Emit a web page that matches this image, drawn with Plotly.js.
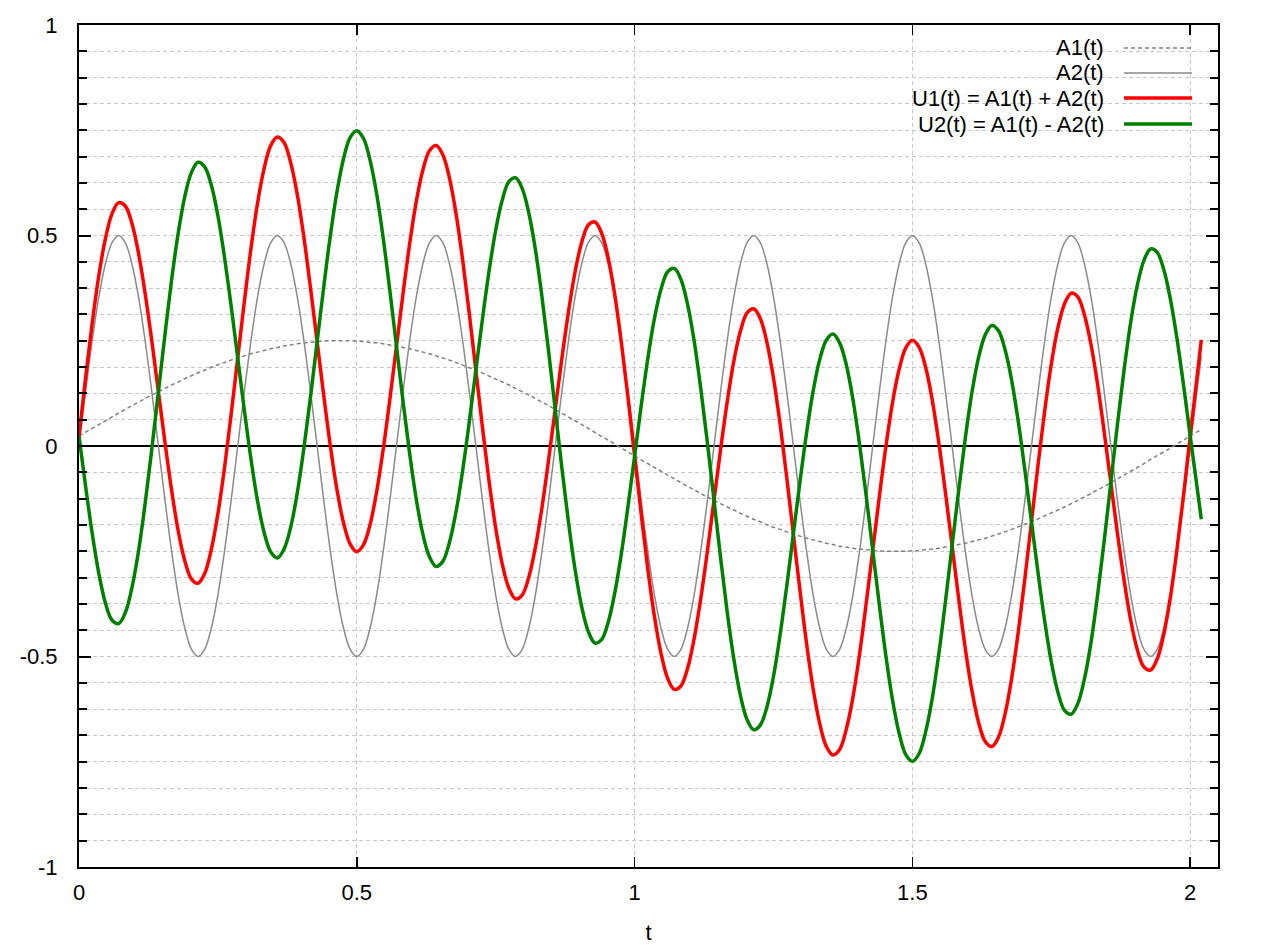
<!DOCTYPE html>
<html>
<head>
<meta charset="utf-8">
<script src="https://cdn.plot.ly/plotly-3.0.1.min.js"></script>
<style>html,body{margin:0;padding:0;background:#fff;}#chart{width:1278px;height:951px;}</style>
</head>
<body>
<div id="chart"></div>
<script>
// time samples (t)
const t = [
  0,0.0119,0.0238,0.0357,0.0476,0.0595,0.0714,0.0833,0.0952,0.1071,0.1190,0.1310,
  0.1429,0.1548,0.1667,0.1786,0.1905,0.2024,0.2143,0.2262,0.2381,0.2500,0.2619,0.2738,
  0.2857,0.2976,0.3095,0.3214,0.3333,0.3452,0.3571,0.3690,0.3810,0.3929,0.4048,0.4167,
  0.4286,0.4405,0.4524,0.4643,0.4762,0.4881,0.5000,0.5119,0.5238,0.5357,0.5476,0.5595,
  0.5714,0.5833,0.5952,0.6071,0.6190,0.6310,0.6429,0.6548,0.6667,0.6786,0.6905,0.7024,
  0.7143,0.7262,0.7381,0.7500,0.7619,0.7738,0.7857,0.7976,0.8095,0.8214,0.8333,0.8452,
  0.8571,0.8690,0.8810,0.8929,0.9048,0.9167,0.9286,0.9405,0.9524,0.9643,0.9762,0.9881,
  1.0000,1.0119,1.0238,1.0357,1.0476,1.0595,1.0714,1.0833,1.0952,1.1071,1.1190,1.1310,
  1.1429,1.1548,1.1667,1.1786,1.1905,1.2024,1.2143,1.2262,1.2381,1.2500,1.2619,1.2738,
  1.2857,1.2976,1.3095,1.3214,1.3333,1.3452,1.3571,1.3690,1.3810,1.3929,1.4048,1.4167,
  1.4286,1.4405,1.4524,1.4643,1.4762,1.4881,1.5000,1.5119,1.5238,1.5357,1.5476,1.5595,
  1.5714,1.5833,1.5952,1.6071,1.6190,1.6310,1.6429,1.6548,1.6667,1.6786,1.6905,1.7024,
  1.7143,1.7262,1.7381,1.7500,1.7619,1.7738,1.7857,1.7976,1.8095,1.8214,1.8333,1.8452,
  1.8571,1.8690,1.8810,1.8929,1.9048,1.9167,1.9286,1.9405,1.9524,1.9643,1.9762,1.9881,
  2.0000,2.02];
// A1(t)
const a1 = [
  0.024,0.033,0.042,0.051,0.060,0.069,0.078,0.087,0.096,0.104,0.113,0.121,
  0.129,0.137,0.145,0.152,0.160,0.167,0.174,0.180,0.187,0.193,0.198,0.204,
  0.209,0.214,0.219,0.223,0.227,0.231,0.234,0.238,0.240,0.243,0.245,0.246,
  0.248,0.249,0.250,0.250,0.250,0.250,0.249,0.248,0.246,0.245,0.243,0.240,
  0.237,0.234,0.231,0.227,0.223,0.219,0.214,0.209,0.204,0.198,0.192,0.186,
  0.180,0.173,0.166,0.159,0.152,0.145,0.137,0.129,0.121,0.113,0.104,0.096,
  0.087,0.078,0.069,0.060,0.051,0.042,0.032,0.023,0.014,0.005,-0.005,-0.014,
  -0.024,-0.033,-0.042,-0.051,-0.060,-0.069,-0.078,-0.087,-0.096,-0.104,-0.113,-0.121,
  -0.129,-0.137,-0.145,-0.152,-0.160,-0.167,-0.174,-0.180,-0.187,-0.193,-0.198,-0.204,
  -0.209,-0.214,-0.219,-0.223,-0.227,-0.231,-0.234,-0.238,-0.240,-0.243,-0.245,-0.246,
  -0.248,-0.249,-0.250,-0.250,-0.250,-0.250,-0.249,-0.248,-0.246,-0.245,-0.243,-0.240,
  -0.237,-0.234,-0.231,-0.227,-0.223,-0.219,-0.214,-0.209,-0.204,-0.198,-0.192,-0.186,
  -0.180,-0.173,-0.166,-0.159,-0.152,-0.145,-0.137,-0.129,-0.121,-0.113,-0.104,-0.096,
  -0.087,-0.078,-0.069,-0.060,-0.051,-0.042,-0.032,-0.023,-0.014,-0.005,0.005,0.014,
  0.024,0.039];
// A2(t)
const a2 = [
  0,0.129,0.25,0.354,0.433,0.483,0.5,0.483,0.433,0.354,0.25,0.129,
  0,-0.129,-0.25,-0.354,-0.433,-0.483,-0.5,-0.483,-0.433,-0.354,-0.25,-0.129,
  0,0.129,0.25,0.354,0.433,0.483,0.5,0.483,0.433,0.354,0.25,0.129,
  0,-0.129,-0.25,-0.354,-0.433,-0.483,-0.5,-0.483,-0.433,-0.354,-0.25,-0.129,
  0,0.129,0.25,0.354,0.433,0.483,0.5,0.483,0.433,0.354,0.25,0.129,
  0,-0.129,-0.25,-0.354,-0.433,-0.483,-0.5,-0.483,-0.433,-0.354,-0.25,-0.129,
  0,0.129,0.25,0.354,0.433,0.483,0.5,0.483,0.433,0.354,0.25,0.129,
  0,-0.129,-0.25,-0.354,-0.433,-0.483,-0.5,-0.483,-0.433,-0.354,-0.25,-0.129,
  0,0.129,0.25,0.354,0.433,0.483,0.5,0.483,0.433,0.354,0.25,0.129,
  0,-0.129,-0.25,-0.354,-0.433,-0.483,-0.5,-0.483,-0.433,-0.354,-0.25,-0.129,
  0,0.129,0.25,0.354,0.433,0.483,0.5,0.483,0.433,0.354,0.25,0.129,
  0,-0.129,-0.25,-0.354,-0.433,-0.483,-0.5,-0.483,-0.433,-0.354,-0.25,-0.129,
  0,0.129,0.25,0.354,0.433,0.483,0.5,0.483,0.433,0.354,0.25,0.129,
  0,-0.129,-0.25,-0.354,-0.433,-0.483,-0.5,-0.483,-0.433,-0.354,-0.25,-0.129,
  0,0.213];
// U1(t) = A1(t) + A2(t)
const u1 = [
  0.024,0.162,0.292,0.405,0.493,0.552,0.578,0.570,0.529,0.458,0.363,0.250,
  0.129,0.008,-0.105,-0.202,-0.273,-0.316,-0.326,-0.303,-0.246,-0.161,-0.052,0.075,
  0.209,0.343,0.469,0.577,0.660,0.714,0.734,0.721,0.673,0.597,0.495,0.375,
  0.248,0.120,0.000,-0.104,-0.183,-0.233,-0.251,-0.235,-0.187,-0.109,-0.007,0.111,
  0.237,0.363,0.481,0.581,0.656,0.702,0.714,0.692,0.637,0.552,0.442,0.315,
  0.180,0.044,-0.084,-0.195,-0.281,-0.338,-0.363,-0.354,-0.312,-0.241,-0.146,-0.033,
  0.087,0.207,0.319,0.414,0.484,0.525,0.532,0.506,0.447,0.359,0.245,0.115,
  -0.024,-0.162,-0.292,-0.405,-0.493,-0.552,-0.578,-0.570,-0.529,-0.458,-0.363,-0.250,
  -0.129,-0.008,0.105,0.202,0.273,0.316,0.326,0.303,0.246,0.161,0.052,-0.075,
  -0.209,-0.343,-0.469,-0.577,-0.660,-0.714,-0.734,-0.721,-0.673,-0.597,-0.495,-0.375,
  -0.248,-0.120,0.000,0.104,0.183,0.233,0.251,0.235,0.187,0.109,0.007,-0.111,
  -0.237,-0.363,-0.481,-0.581,-0.656,-0.702,-0.714,-0.692,-0.637,-0.552,-0.442,-0.315,
  -0.180,-0.044,0.084,0.195,0.281,0.338,0.363,0.354,0.312,0.241,0.146,0.033,
  -0.087,-0.207,-0.319,-0.414,-0.484,-0.525,-0.532,-0.506,-0.447,-0.359,-0.245,-0.115,
  0.024,0.252];
// U2(t) = A1(t) - A2(t)
const u2 = [
  0.024,-0.096,-0.208,-0.303,-0.373,-0.414,-0.422,-0.396,-0.337,-0.250,-0.137,-0.008,
  0.129,0.266,0.395,0.506,0.593,0.650,0.674,0.663,0.620,0.547,0.448,0.333,
  0.209,0.085,-0.031,-0.131,-0.206,-0.252,-0.266,-0.245,-0.193,-0.111,-0.005,0.117,
  0.248,0.378,0.500,0.604,0.683,0.733,0.749,0.731,0.679,0.599,0.493,0.369,
  0.237,0.105,-0.019,-0.127,-0.210,-0.264,-0.286,-0.274,-0.229,-0.156,-0.058,0.057,
  0.180,0.302,0.416,0.513,0.585,0.628,0.637,0.612,0.554,0.467,0.354,0.225,
  0.087,-0.051,-0.181,-0.294,-0.382,-0.441,-0.468,-0.460,-0.419,-0.349,-0.255,-0.143,
  -0.024,0.096,0.208,0.303,0.373,0.414,0.422,0.396,0.337,0.250,0.137,0.008,
  -0.129,-0.266,-0.395,-0.506,-0.593,-0.650,-0.674,-0.663,-0.620,-0.547,-0.448,-0.333,
  -0.209,-0.085,0.031,0.131,0.206,0.252,0.266,0.245,0.193,0.111,0.005,-0.117,
  -0.248,-0.378,-0.500,-0.604,-0.683,-0.733,-0.749,-0.731,-0.679,-0.599,-0.493,-0.369,
  -0.237,-0.105,0.019,0.127,0.210,0.264,0.286,0.274,0.229,0.156,0.058,-0.057,
  -0.180,-0.302,-0.416,-0.513,-0.585,-0.628,-0.637,-0.612,-0.554,-0.467,-0.354,-0.225,
  -0.087,0.051,0.181,0.294,0.382,0.441,0.468,0.460,0.419,0.349,0.255,0.143,
  0.024,-0.174];

const seriesNames = ["A1(t)", "A2(t)", "U1(t) = A1(t) + A2(t)", "U2(t) = A1(t) - A2(t)"];
const xTickVals = [0, 0.5, 1, 1.5, 2];
const xTickText = ["0", "0.5", "1", "1.5", "2"];
const yTickVals = [-1, -0.5, 0, 0.5, 1];
const yTickText = ["-1", "-0.5", "0", "0.5", "1"];

const FONT = "'Liberation Sans', Arial, sans-serif";
const FS = 22;
const GRID = "#c8c8c8";
const styles = [
  {color: "#808080", width: 1.5, dash: "4px,3px"},
  {color: "#8a8a8a", width: 1.5, dash: "solid"},
  {color: "#ff0000", width: 3.5, dash: "solid"},
  {color: "#008000", width: 3.5, dash: "solid"}
];
const ys = [a1, a2, u1, u2];

const traces = ys.map((y, i) => ({
  x: t, y: y, type: "scatter", mode: "lines", name: seriesNames[i],
  line: {color: styles[i].color, width: styles[i].width, dash: styles[i].dash, shape: "spline", smoothing: 1},
  hoverinfo: "skip", showlegend: false
}));

// hand-built gnuplot-style legend (text left, sample right)
const legX0 = 0.9175, legX1 = 0.9772, legTextX = 0.9015;
const rowY = [0.9727, 0.9430, 0.9133, 0.8824];
const shapes = [
  {type: "rect", xref: "paper", yref: "paper", x0: 0.647, x1: 0.987, y0: 0.863, y1: 1,
   fillcolor: "#ffffff", line: {width: 0}, layer: "between"}
];
const annotations = [];
seriesNames.forEach((n, i) => {
  shapes.push({type: "line", xref: "paper", yref: "paper", x0: legX0, x1: legX1, y0: rowY[i], y1: rowY[i],
    line: {color: styles[i].color, width: styles[i].width, dash: styles[i].dash}, layer: "above"});
  annotations.push({xref: "paper", yref: "paper", x: legTextX, y: rowY[i], xanchor: "right", yanchor: "middle",
    text: n, showarrow: false, font: {family: FONT, size: FS, color: "#000"}});
});

const layout = {
  width: 1278, height: 951,
  margin: {l: 79, r: 60, t: 25, b: 84},
  paper_bgcolor: "#fff", plot_bgcolor: "#fff",
  font: {family: FONT, size: FS, color: "#000"},
  showlegend: false,
  xaxis: {
    range: [0, 2.05], tickmode: "array", tickvals: xTickVals, ticktext: xTickText,
    ticks: "inside", ticklen: 10, tickwidth: 1.5, tickcolor: "#000",
    showline: true, linecolor: "#000", linewidth: 2, mirror: "allticks",
    showgrid: true, gridcolor: GRID, gridwidth: 1, griddash: "4px,3px",
    zeroline: false, ticklabelstandoff: 5,
    title: {text: "t", font: {family: FONT, size: FS}, standoff: 20},
    automargin: false
  },
  yaxis: {
    range: [-1, 1], tickmode: "array", tickvals: yTickVals, ticktext: yTickText,
    ticks: "inside", ticklen: 12, tickwidth: 2, tickcolor: "#000",
    showline: true, linecolor: "#000", linewidth: 2, mirror: "allticks",
    showgrid: true, gridcolor: GRID, gridwidth: 1, griddash: "4px,3px",
    zeroline: true, zerolinecolor: "#000", zerolinewidth: 2,
    minor: {dtick: 0.0625, tick0: 0, ticks: "inside", ticklen: 8, tickwidth: 2, tickcolor: "#000",
            showgrid: true, gridcolor: GRID, gridwidth: 1, griddash: "4px,3px"},
    ticklabelstandoff: 15,
    automargin: false
  },
  shapes: shapes,
  annotations: annotations
};

Plotly.newPlot("chart", traces, layout, {displayModeBar: false, staticPlot: true});
</script>
</body>
</html>
